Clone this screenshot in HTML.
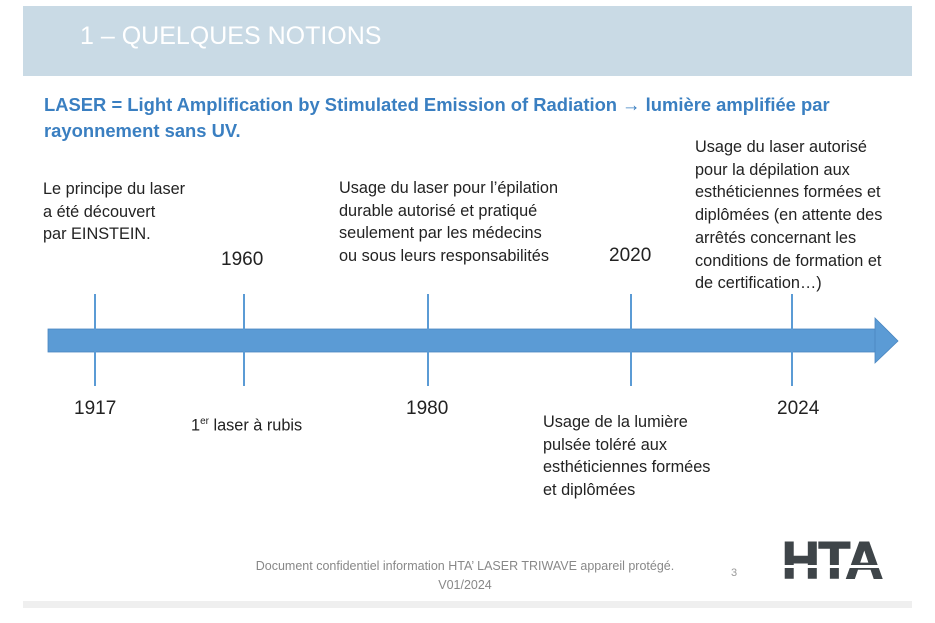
<!DOCTYPE html>
<html><head><meta charset="utf-8"><style>
body{margin:0;width:935px;height:623px;background:#fff;position:relative;overflow:hidden;font-family:"Liberation Sans",sans-serif;}
.a{position:absolute;}
.t{position:absolute;font-size:16.3px;line-height:22.7px;color:#222;white-space:nowrap;}
.y{position:absolute;font-size:19px;line-height:22px;color:#222;}
</style></head><body>
<div class="a" style="left:23px;top:6px;width:889px;height:70px;background:#c9dae5;"></div>
<div class="a" style="left:80px;top:22px;font-size:25px;color:#fff;">1 – QUELQUES NOTIONS</div>
<div class="a" style="left:44px;top:92px;font-size:18.4px;font-weight:bold;color:#3a7fc1;line-height:26px;white-space:nowrap;">LASER = Light Amplification by Stimulated Emission of Radiation → lumière amplifiée par<br>rayonnement sans UV.</div>
<svg class="a" style="left:0;top:0" width="935" height="623">
<rect x="48" y="329" width="828" height="23" fill="#5b9bd5" stroke="#4a86c0" stroke-width="0.8"/>
<polygon points="875,318 898,341 875,363" fill="#5b9bd5" stroke="#4a86c0" stroke-width="0.8"/>
<g stroke="#5b9bd5" stroke-width="2">
<line x1="95" y1="294" x2="95" y2="386"/><line x1="244" y1="294" x2="244" y2="386"/><line x1="428" y1="294" x2="428" y2="386"/><line x1="631" y1="294" x2="631" y2="386"/><line x1="792" y1="294" x2="792" y2="386"/>
</g>
<rect x="23" y="601" width="889" height="7" fill="#efefef"/>
</svg>
<div class="t" style="left:43px;top:178px;">Le principe du laser<br>a été découvert<br>par EINSTEIN.</div>
<div class="y" style="left:221px;top:249px;">1960</div>
<div class="t" style="left:339px;top:177px;">Usage du laser pour l’épilation<br>durable autorisé et pratiqué<br>seulement par les médecins<br>ou sous leurs responsabilités</div>
<div class="y" style="left:609px;top:245px;">2020</div>
<div class="t" style="left:695px;top:136px;">Usage du laser autorisé<br>pour la dépilation aux<br>esthéticiennes formées et<br>diplômées (en attente des<br>arrêtés concernant les<br>conditions de formation et<br>de certification…)</div>
<div class="y" style="left:74px;top:398px;">1917</div>
<div class="t" style="left:191px;top:411px;">1<sup style="font-size:10px">er</sup> laser à rubis</div>
<div class="y" style="left:406px;top:398px;">1980</div>
<div class="t" style="left:543px;top:411px;">Usage de la lumière<br>pulsée toléré aux<br>esthéticiennes formées<br>et diplômées</div>
<div class="y" style="left:777px;top:398px;">2024</div>
<div class="a" style="left:230px;top:557px;width:470px;text-align:center;font-size:12.5px;color:#888;line-height:19px;">Document confidentiel information HTA’ LASER TRIWAVE appareil protégé.<br>V01/2024</div>
<div class="a" style="left:731px;top:567px;font-size:11px;color:#999;">3</div>
<div class="a" style="left:782px;top:533px;font-size:52px;font-weight:900;color:#3f4549;letter-spacing:-1px;transform:scaleX(1.0);transform-origin:left;line-height:56px;-webkit-text-stroke:1.5px #3f4549;">HTA</div>
<div class="a" style="left:780px;top:565px;width:104px;height:3px;background:#fff;"></div>
</body></html>
